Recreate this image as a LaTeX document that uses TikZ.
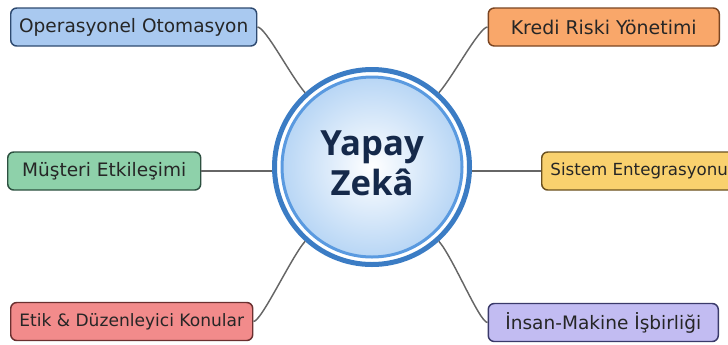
\documentclass[tikz,border=0pt]{standalone}
\usepackage{fontspec}
\setmainfont{DejaVu Sans}
\newfontfamily\hubfont{Open Sans}
\usetikzlibrary{shadings}

\definecolor{opsfill}{HTML}{A9C9F0}\definecolor{opsdraw}{HTML}{2E4A70}
\definecolor{krdfill}{HTML}{F9A76A}\definecolor{krddraw}{HTML}{7A4522}
\definecolor{musfill}{HTML}{8ED1AA}\definecolor{musdraw}{HTML}{2D5040}
\definecolor{sisfill}{HTML}{F9D16E}\definecolor{sisdraw}{HTML}{6A5020}
\definecolor{etkfill}{HTML}{F28B8B}\definecolor{etkdraw}{HTML}{6A3030}
\definecolor{insfill}{HTML}{C2BCF2}\definecolor{insdraw}{HTML}{3A3A6A}
\definecolor{ringout}{HTML}{3B7CC4}
\definecolor{ringin}{HTML}{5A9AE0}
\definecolor{hubglow}{HTML}{B8D6F5}
\definecolor{hubtext}{HTML}{15294A}
\definecolor{linkgray}{HTML}{666666}

\tikzset{
  topic/.style={draw=#1draw, fill=#1fill, rounded corners=4.5pt, line width=1.1pt,
    inner xsep=4pt, minimum height=28.5pt, text=black!85,
    font=\fontsize{13.9}{16}\selectfont},
  link/.style={draw=linkgray, line width=1.1pt},
}

\begin{document}
\begin{tikzpicture}[x=0.75pt,y=0.75pt,yscale=-1,xscale=1]
\path[use as bounding box, clip] (0,0) rectangle (728,344);

% Hub
\draw[ringin, line width=2.25pt, inner color=white, outer color=hubglow] (372,167) circle[radius=90];
\draw (372,167) node [circle, draw=ringout, line width=3.75pt, minimum size=146.25pt, inner sep=0pt,
  align=center, text=hubtext, font=\hubfont\bfseries\fontsize{26}{31.5}\selectfont] (ai) {\raisebox{3pt}{\begin{tabular}{@{}c@{}}Yapay\\[-2pt]Zekâ\end{tabular}}};

% Text Node
\draw (10,27) node [anchor=west, topic=ops, minimum width=184.5pt] (ops) {Operasyonel Otomasyon};
% Text Node
\draw (720,27) node [anchor=east, topic=krd, minimum width=173.25pt, font=\fontsize{14.2}{16}\selectfont] (krd) {Kredi Riski Yönetimi};
% Text Node
\draw (7,171) node [anchor=west, topic=mus, minimum width=144.75pt] (mus) {Müşteri Etkileşimi};
% Text Node
\draw (541,171) node [anchor=west, topic=sis, minimum width=146.25pt, font=\fontsize{12.5}{16}\selectfont] (sis) {Sistem Entegrasyonu};
% Text Node
\draw (10,321.5) node [anchor=west, topic=etk, minimum width=181.5pt, font=\fontsize{12.8}{16}\selectfont] (etk) {Etik \& Düzenleyici Konular};
% Text Node
\draw (719,322.5) node [anchor=east, topic=ins, minimum width=172.5pt] (ins) {İnsan-Makine İşbirliği};

% Links
\draw[link] (ops.east) .. controls +(8,0) and +(-14,-16) .. (ai.132);
\draw[link] (krd.west) .. controls +(-8,0) and +(14,-16) .. (ai.48);
\draw[link] (mus.east) -- (ai.west |- mus.east);
\draw[link] (sis.west) -- (ai.east |- sis.west);
\draw[link] (etk.east) .. controls +(8,0) and +(-14,16) .. (ai.228);
\draw[link] (ins.west) .. controls +(-8,0) and +(14,16) .. (ai.312);
\end{tikzpicture}
\end{document}
